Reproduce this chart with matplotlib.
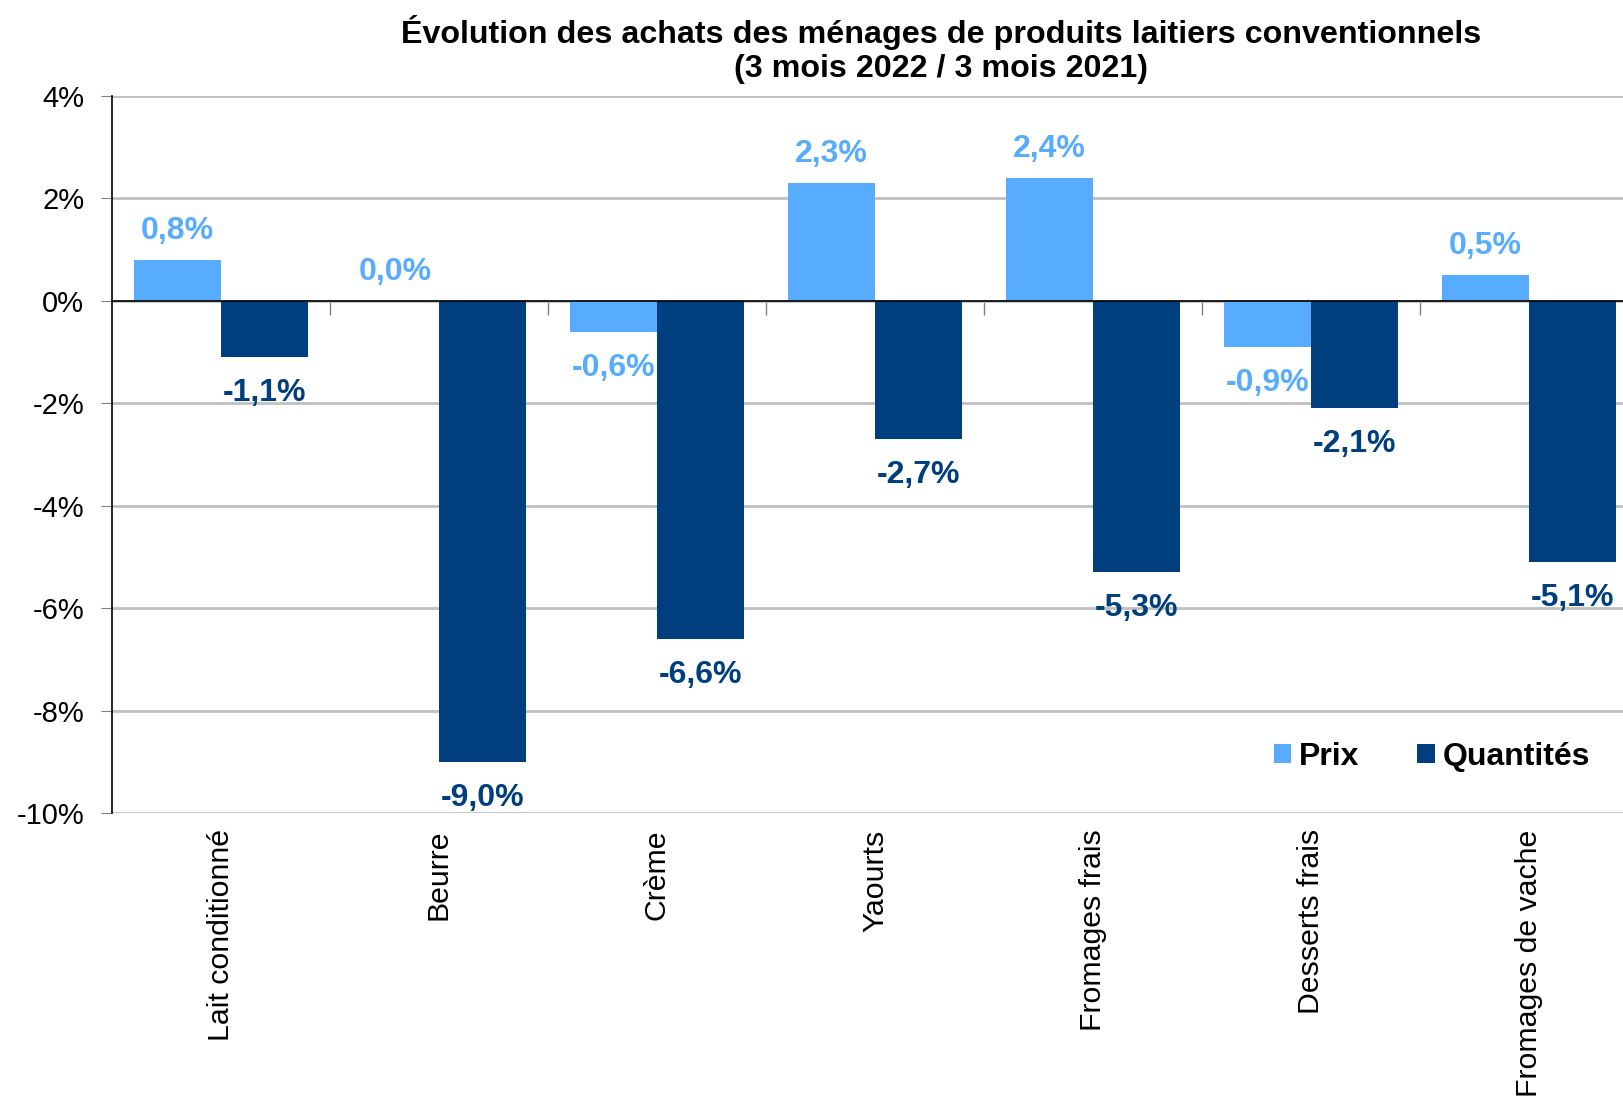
import numpy as np
import matplotlib
matplotlib.use('Agg')
import matplotlib.pyplot as plt
from matplotlib.ticker import MultipleLocator, FuncFormatter

plt.rcParams['font.family'] = ['Liberation Sans', 'DejaVu Sans']

# Data
categories = ['Lait conditionné', 'Beurre', 'Crème', 'Yaourts',
              'Fromages frais', 'Desserts frais', 'Fromages de vache']
prix = [0.8, 0.0, -0.6, 2.3, 2.4, -0.9, 0.5]
quantites = [-1.1, -9.0, -6.6, -2.7, -5.3, -2.1, -5.1]
series_names = ['Prix', 'Quantités']
colors = ['#58ACFF', '#003F7D']

title = ("Évolution des achats des ménages de produits laitiers conventionnels\n"
         "(3 mois 2022 / 3 mois 2021)")

fig = plt.figure(figsize=(16.23, 11.02), dpi=100)
ax = fig.add_axes([0.069, 0.2623, 0.9402, 0.6506])

x = np.arange(len(categories))
w = 0.4
for i, (vals, name, c) in enumerate(zip([prix, quantites], series_names, colors)):
    b = ax.bar(x + (i - 0.5) * w, vals, width=w, color=c, label=name, zorder=3)
    for rect, v in zip(b, vals):
        xc = rect.get_x() + rect.get_width() / 2
        off = 21 if v >= 0 else -26
        ax.annotate(f"{v:.1f}%".replace('.', ','), (xc, v),
                    xytext=(0, off), textcoords='offset points',
                    ha='center', va='center', fontsize=23, fontweight='bold',
                    color=c, zorder=4)

ax.set_xlim(-0.5, len(categories) - 0.5)
ax.set_ylim(-10, 4)

# y axis
ax.yaxis.set_major_locator(MultipleLocator(2))
ax.yaxis.set_major_formatter(FuncFormatter(lambda v, p: f"{v:.0f}%"))
ax.tick_params(axis='y', direction='out', length=8, color='#808080',
               labelsize=21, pad=12)
ax.grid(axis='y', color='#C0C0C0', linewidth=2, zorder=0)

# x axis crossing at zero, tick marks between groups
ax.spines['bottom'].set_position(('data', 0))
ax.spines['bottom'].set_zorder(5)
ax.spines['bottom'].set_linewidth(1.2)
ax.set_xticks(x)
ax.set_xticks(x[:-1] + 0.5, minor=True)
ax.tick_params(axis='x', which='major', length=0, labelbottom=False)
ax.tick_params(axis='x', which='minor', direction='out', length=10,
               color='#808080', width=1)
for s in ['top', 'right']:
    ax.spines[s].set_visible(False)
ax.spines['left'].set_linewidth(1.2)

# category labels below the plot
for xi, cat in zip(x, categories):
    ax.text(xi, -10.32, cat, rotation=90, ha='center', va='top', fontsize=21.8)

ax.legend(loc='center', bbox_to_anchor=(0.865, 0.078), ncol=2, frameon=False,
          prop={'size': 23, 'weight': 'bold'}, handlelength=0.55,
          handleheight=0.55, handletextpad=0.25, columnspacing=1.8)

fig.text(0.58, 0.955, title, ha='center', va='center', fontsize=23.2,
         fontweight='bold', linespacing=1.15)

fig.savefig('out.png', dpi=100)
